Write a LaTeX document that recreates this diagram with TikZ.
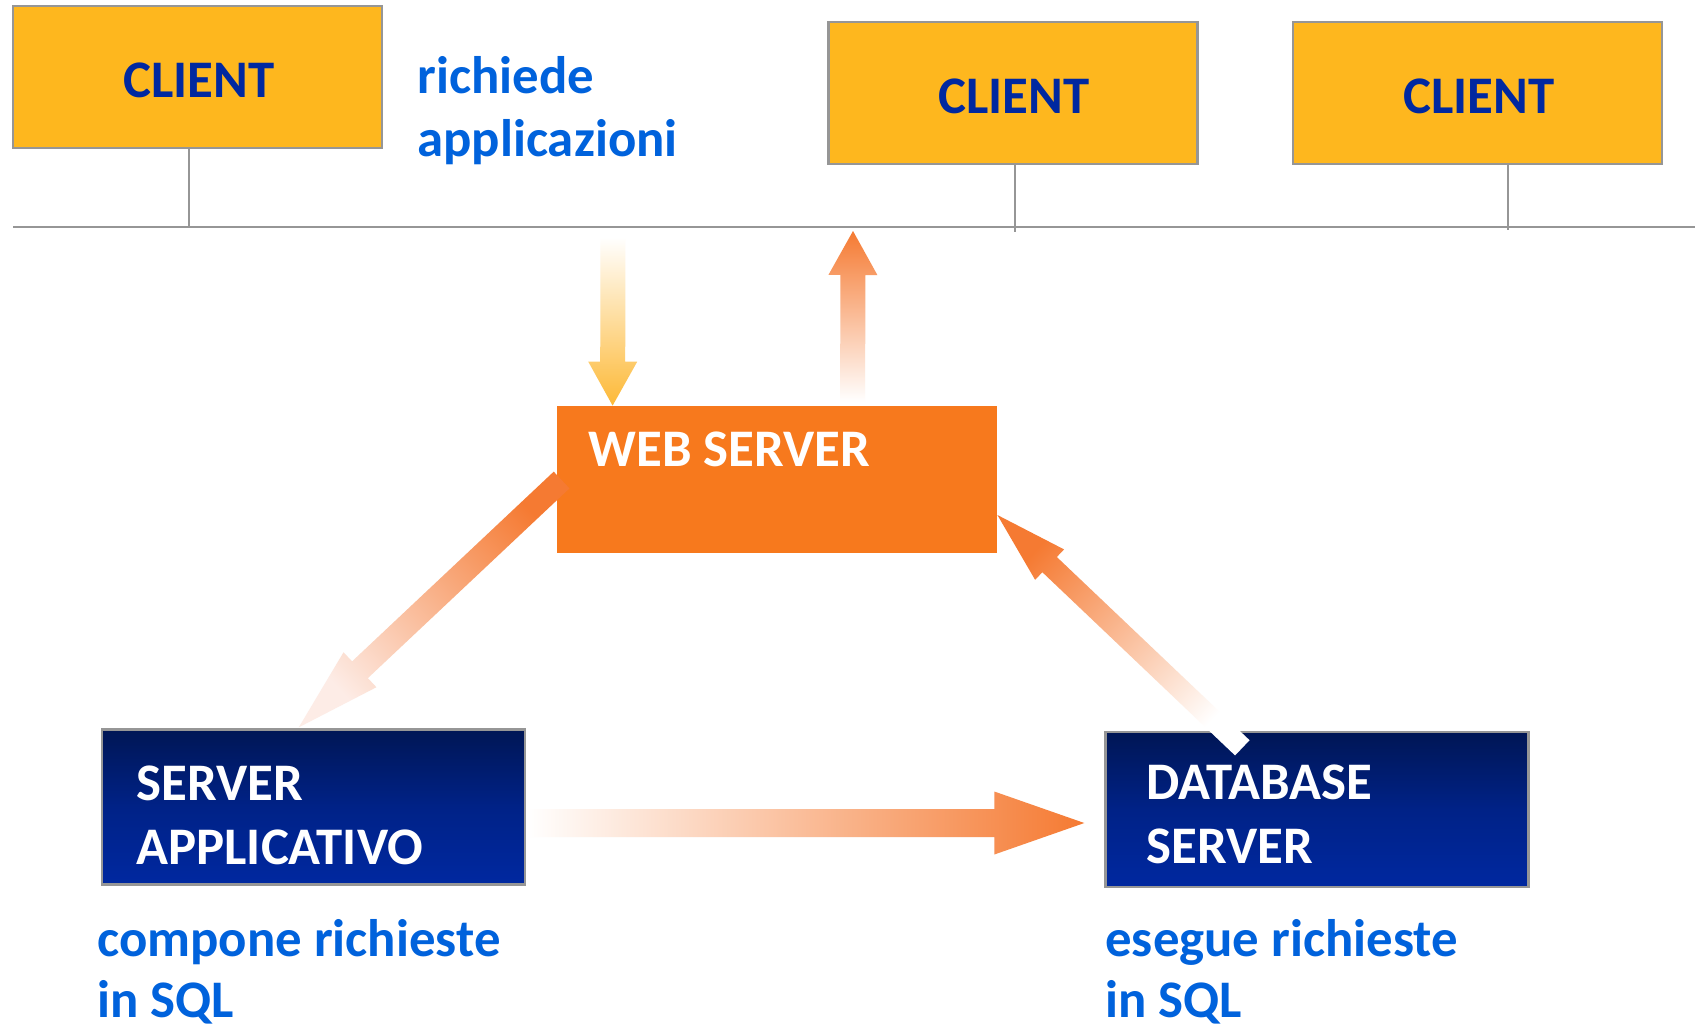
\documentclass[tikz,border=0pt]{standalone}
\usepackage{fontspec}
\setmainfont{Carlito}
\usetikzlibrary{calc}
\definecolor{clientfill}{RGB}{254,183,30}
\definecolor{clienttext}{RGB}{0,40,160}
\definecolor{boxgray}{RGB}{150,150,150}
\definecolor{webfill}{RGB}{247,121,29}
\definecolor{navytop}{RGB}{0,22,85}
\definecolor{navymid}{RGB}{0,34,135}
\definecolor{navybot}{RGB}{0,40,160}
\definecolor{labelblue}{RGB}{0,98,220}
\definecolor{arrorange}{RGB}{245,122,50}
\definecolor{arryellow}{RGB}{253,185,55}
\definecolor{paleorange}{RGB}{253,236,230}
\newcommand{\garrow}[8]{%
  \coordinate (hb) at ($(#2)!#5!(#1)$);
  \path[bottom color=#6, top color=#7, shading angle=#8]
    ($(#1)!#3!90:(#2)$) -- ($(hb)!#3!90:(#2)$) -- ($(hb)!#4!90:(#2)$) -- (#2)
    -- ($(hb)!#4!-90:(#2)$) -- ($(hb)!#3!-90:(#2)$) -- ($(#1)!#3!-90:(#2)$) -- cycle;
}
\begin{document}
\begin{tikzpicture}[x=0.5pt,y=-0.5pt,
  bigfont/.style={font=\fontsize{26.4}{31}\selectfont\bfseries},
  clientbox/.style={draw=boxgray, line width=1.1pt, fill=clientfill, minimum width=184.5pt, minimum height=71pt, inner sep=0pt},
  webbox/.style={fill=webfill, minimum width=220pt, minimum height=73.5pt, inner sep=0pt},
  navybox/.style={draw=boxgray, line width=1.2pt, top color=navytop, bottom color=navybot, middle color=navymid, minimum width=211.5pt, minimum height=77.5pt, inner sep=0pt},
  clienttxt/.style={bigfont, text=clienttext, anchor=base, inner sep=0pt},
  boxtxt/.style={bigfont, text=white, anchor=base west, inner sep=0pt},
  lbl/.style={bigfont, text=labelblue, anchor=base west, inner sep=0pt},
  wire/.style={draw=boxgray, line width=1.2pt}]
\useasboundingbox (0,0) rectangle (1695,1030);
\fill[white] (0,0) rectangle (1695,1030);

% bus
\coordinate (busL) at (13,227);
\coordinate (busR) at (1695,227);
\draw[wire] (busL) -- (busR);

% clients
\node[clientbox] (c1) at (197.5,77) {};
\node[clientbox] (c2) at (1013,93) {};
\node[clientbox] (c3) at (1477.5,93) {};
\node[clienttxt] (c1t) at (199,97) {CLIENT};
\node[clienttxt] (c2t) at (1014,113) {CLIENT};
\node[clienttxt] (c3t) at (1479,113) {CLIENT};
\coordinate (d1) at (189,227);
\coordinate (d2) at (1015,232);
\coordinate (d3) at (1508,230);
\draw[wire] (c1.south -| d1) -- (d1);
\draw[wire] (c2.south -| d2) -- (d2);
\draw[wire] (c3.south -| d3) -- (d3);

\node[lbl] (l1) at (417,93) {richiede};
\node[lbl] (l2) at (417,156) {applicazioni};

% servers
\node[webbox] (web) at (777,479.5) {};
\node[boxtxt] (webt) at (588,466) {WEB SERVER};
\node[navybox] (sa) at (313.5,807) {};
\node[boxtxt] (sat1) at (136,800) {SERVER};
\node[boxtxt] (sat2) at (136,864) {APPLICATIVO};
\node[navybox] (db) at (1317,809.5) {};
\node[boxtxt] (dbt1) at (1146,799) {DATABASE};
\node[boxtxt] (dbt2) at (1146,863) {SERVER};

\node[lbl] (l3) at (97,956) {compone richieste};
\node[lbl] (l4) at (97,1017) {in SQL};
\node[lbl] (l5) at (1105,956) {esegue richieste};
\node[lbl] (l6) at (1105,1017) {in SQL};

% arrows
\coordinate (downtail) at (613,237);
\coordinate (downtip) at ($(web.north west)+(56,0)$);
\garrow{downtail}{downtip}{6.25pt}{12.25pt}{22pt}{white}{arryellow}{180}

\coordinate (uptail) at ($(web.north west)+(296,-4)$);
\coordinate (uptip) at (853,231);
\garrow{uptail}{uptip}{6.25pt}{12.25pt}{22pt}{white}{arrorange}{0}

\coordinate (ldtail) at ($(web.west)+(5,0.5)$);
\coordinate (ldtip) at ($(sa.north west)+(198,-1)$);
\garrow{ldtail}{ldtip}{5.75pt}{12pt}{42pt}{arrorange}{paleorange}{133.4}

\coordinate (rdtail) at ($(db.north west)+(138,17)$);
\coordinate (rdtip) at ($(web.east)+(0,35.5)$);
\garrow{rdtail}{rdtip}{5.25pt}{10.5pt}{36pt}{white}{arrorange}{46.4}

\coordinate (htail) at ($(sa.east)+(1,16)$);
\coordinate (htip) at ($(db.west)+(-20,13.5)$);
\garrow{htail}{htip}{7pt}{15.75pt}{45pt}{white}{arrorange}{-90}
\end{tikzpicture}
\end{document}
